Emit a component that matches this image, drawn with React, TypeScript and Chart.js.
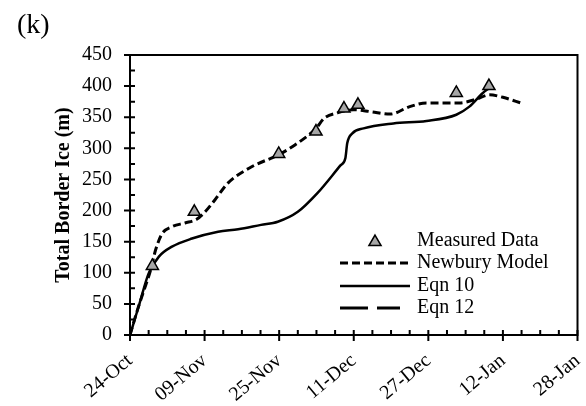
import { useEffect, useRef } from 'react';
import { Chart, registerables } from 'chart.js';

Chart.register(...registerables);

const tickLabels = ['24-Oct', '09-Nov', '25-Nov', '11-Dec', '27-Dec', '12-Jan', '28-Jan'];

// x values are days after 24-Oct
const measuredDays = [4.8, 13.8, 31.9, 39.9, 45.9, 48.9, 70.0, 77.0];
const measuredValues = [111, 198, 291, 327, 364, 370, 389, 400];

const newburyDays = [0, 1.5, 3.0, 4.4, 5.5, 6.9, 9.0, 11.8, 14.3, 16.1, 18.2, 21.0, 26.0, 31.7, 35.3, 39.9, 41.6, 44.5, 48.0, 51.6, 55.8, 60.0, 63.6, 70.7, 74.3, 77.1, 80.0, 84.2];
const newburyValues = [0, 38, 72, 104, 137, 163, 174, 180, 186, 198, 217, 244, 270, 289, 305, 332, 348, 357, 362, 359, 355, 367, 373, 373, 379, 386, 382, 372];

const eqn10Days = [0, 1.9, 4.0, 6.2, 9.0, 13.3, 18.9, 23.2, 28.1, 31.7, 36.0, 40.2, 45.2, 46.2, 46.6, 47.7, 50.1, 56.5, 63.6, 70.0, 72.8, 75.7, 77.1];
const eqn10Values = [0, 47, 99, 126, 142, 155, 166, 170, 177, 182, 198, 228, 273, 284, 308, 324, 332, 340, 344, 354, 367, 389, 397];

const eqn12Days: number[] = [];
const eqn12Values: number[] = [];

const seriesNames = ['Measured Data', 'Newbury Model', 'Eqn 10', 'Eqn 12'];

const toPoints = (xs: number[], ys: number[]) => xs.map((x, i) => ({ x, y: ys[i] }));

const FONT = '"Liberation Serif", "Times New Roman", serif';

const framePlugin = {
  id: 'frame',
  afterDraw(chart: any) {
    const { ctx, chartArea: a, scales } = chart;
    const xs = scales.x;
    const ys = scales.y;
    ctx.save();
    ctx.strokeStyle = '#000';
    ctx.lineWidth = 2;
    ctx.strokeRect(a.left, a.top, a.right - a.left, a.bottom - a.top);
    ctx.beginPath();
    for (let d = 0; d <= 96; d += 4) {
      const px = xs.getPixelForValue(d);
      const major = d % 16 === 0;
      ctx.moveTo(px, a.bottom - 5);
      ctx.lineTo(px, a.bottom + (major ? 6 : 0));
    }
    for (let v = 0; v <= 450; v += 25) {
      const py = ys.getPixelForValue(v);
      const major = v % 50 === 0;
      ctx.moveTo(a.left + 5, py);
      ctx.lineTo(a.left - (major ? 6 : 0), py);
    }
    ctx.stroke();

    // legend
    const ds = chart.data.datasets;
    const rows = [241, 263, 286, 308];
    const x0 = 340;
    const x1 = 410;
    const tx = 417;
    ctx.font = `20px ${FONT}`;
    ctx.fillStyle = '#000';
    ctx.textBaseline = 'middle';
    ctx.textAlign = 'left';
    rows.forEach((ry, i) => {
      const d = ds[i];
      if (i === 0) {
        const r = 7;
        const cx = 375;
        const cy = ry + 1;
        ctx.beginPath();
        ctx.moveTo(cx, cy - r);
        ctx.lineTo(cx + r * Math.sin((2 * Math.PI) / 3), cy - r * Math.cos((2 * Math.PI) / 3));
        ctx.lineTo(cx + r * Math.sin((4 * Math.PI) / 3), cy - r * Math.cos((4 * Math.PI) / 3));
        ctx.closePath();
        ctx.fillStyle = d.pointBackgroundColor;
        ctx.fill();
        ctx.lineWidth = d.pointBorderWidth;
        ctx.strokeStyle = '#000';
        ctx.stroke();
      } else {
        ctx.beginPath();
        ctx.setLineDash(d.borderDash || []);
        ctx.lineWidth = d.borderWidth;
        ctx.strokeStyle = '#000';
        ctx.moveTo(x0, ry);
        ctx.lineTo(i === 3 ? 400 : x1, ry);
        ctx.stroke();
        ctx.setLineDash([]);
      }
      ctx.fillStyle = '#000';
      ctx.fillText(seriesNames[i], tx, ry);
    });

    ctx.font = `28px ${FONT}`;
    ctx.textBaseline = 'alphabetic';
    ctx.fillText('(k)', 17, 33);
    ctx.restore();
  },
};

export default function App() {
  const ref = useRef<HTMLCanvasElement | null>(null);
  useEffect(() => {
    if (!ref.current) return;
    Chart.defaults.font.family = FONT;
    Chart.defaults.color = '#000';
    const chart = new Chart(ref.current, {
      type: 'line',
      data: {
        datasets: [
          {
            label: seriesNames[0],
            data: toPoints(measuredDays, measuredValues),
            showLine: false,
            pointStyle: 'triangle',
            pointRadius: 7,
            pointBackgroundColor: '#a6a6a6',
            pointBorderColor: '#000',
            pointBorderWidth: 1.5,
            order: 0,
          } as any,
          {
            label: seriesNames[1],
            data: toPoints(newburyDays, newburyValues),
            borderColor: '#000',
            borderWidth: 3,
            borderDash: [8, 4],
            pointRadius: 0,
            cubicInterpolationMode: 'monotone',
            order: 1,
          },
          {
            label: seriesNames[2],
            data: toPoints(eqn10Days, eqn10Values),
            borderColor: '#000',
            borderWidth: 2.5,
            pointRadius: 0,
            cubicInterpolationMode: 'monotone',
            order: 2,
          },
          {
            label: seriesNames[3],
            data: toPoints(eqn12Days, eqn12Values),
            borderColor: '#000',
            borderWidth: 3,
            borderDash: [28, 9],
            pointRadius: 0,
            order: 3,
          },
        ],
      },
      options: {
        animation: false,
        responsive: false,
        maintainAspectRatio: false,
        layout: { padding: { top: 55, right: 3, left: 0, bottom: 0 } },
        plugins: {
          legend: { display: false },
          tooltip: { enabled: false },
        },
        scales: {
          x: {
            type: 'linear',
            min: 0,
            max: 96,
            grid: { display: false, drawTicks: false },
            border: { display: false },
            afterFit: (s: any) => {
              s.height = 71;
              s.paddingRight = 0;
              s.paddingLeft = 0;
            },
            ticks: {
              stepSize: 16,
              autoSkip: false,
              maxRotation: 40,
              minRotation: 40,
              padding: 14,
              font: { size: 20, family: FONT },
              color: '#000',
              callback: (v: any) => tickLabels[Math.round(Number(v) / 16)] ?? '',
            },
          },
          y: {
            min: 0,
            max: 450,
            grid: { display: false, drawTicks: false },
            border: { display: false },
            afterFit: (s: any) => {
              s.width = 130;
              s.paddingTop = 0;
              s.paddingBottom = 0;
            },
            ticks: {
              stepSize: 50,
              padding: 18,
              font: { size: 20, family: FONT },
              color: '#000',
            },
            title: {
              display: true,
              text: 'Total Border Ice (m)',
              font: { size: 20, weight: 'bold', family: FONT },
              color: '#000',
              padding: { top: 52, bottom: 0 },
            },
          },
        },
      },
      plugins: [framePlugin],
    });
    return () => chart.destroy();
  }, []);
  return (
    <div style={{ position: 'fixed', left: 0, top: 0, width: 586, height: 406, background: '#fff' }}>
      <canvas ref={ref} width={586} height={406} style={{ width: 586, height: 406, display: 'block' }} />
    </div>
  );
}
